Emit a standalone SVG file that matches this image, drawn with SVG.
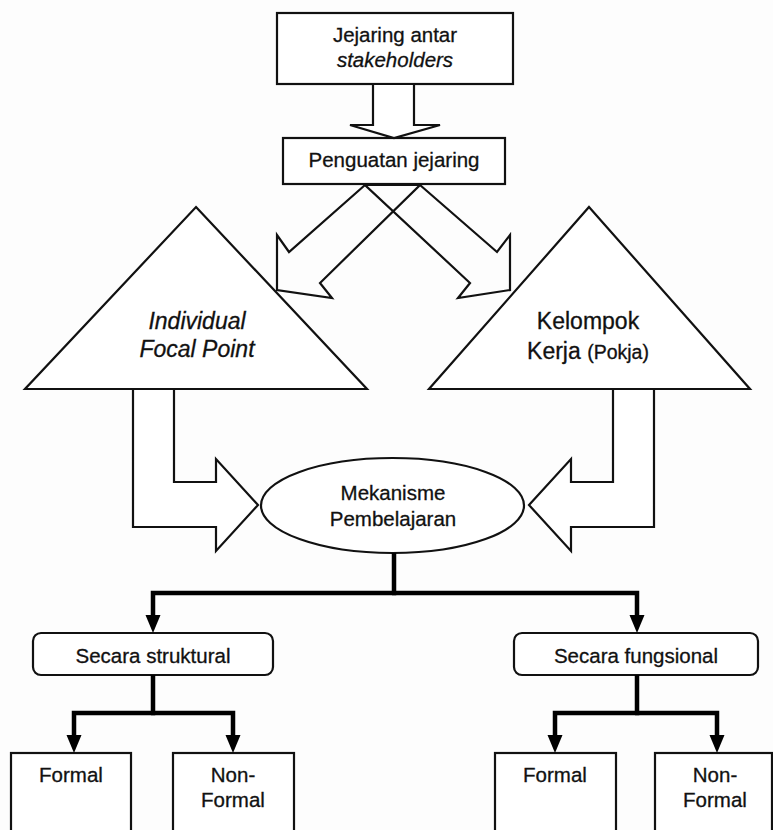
<svg xmlns="http://www.w3.org/2000/svg" width="773" height="830" viewBox="0 0 773 830">
<style>
.box{fill:#fff;stroke:#111;stroke-width:2.2}
.blk{fill:#fff;stroke:#111;stroke-width:2.2;stroke-linejoin:miter}
.open{fill:none;stroke:#111;stroke-width:2.2;stroke-linejoin:miter}
.thick{fill:none;stroke:#000;stroke-width:4.5;stroke-linejoin:miter}
text{font-family:"Liberation Sans",Arial,sans-serif;fill:#111;stroke:#111;stroke-width:0.3;text-anchor:middle}
.t20{font-size:20.5px}
.t23{font-size:23px}
.it{font-style:italic}
</style>
<defs>
<marker id="ah" markerUnits="userSpaceOnUse" markerWidth="18" markerHeight="16" refX="8" refY="7.5" orient="auto" viewBox="0 0 18 15">
<path d="M0,0 L18,7.5 L0,15 z" fill="#000"/>
</marker>
</defs>
<rect width="773" height="830" fill="#fdfdfd"/>

<g id="node-jejaring">
<rect class="box" x="277" y="13" width="236" height="71"/>
<text class="t20" x="395" y="42">Jejaring antar</text>
<text class="t20 it" x="395" y="67">stakeholders</text>
</g>

<g id="node-penguatan">
<rect class="box" x="283" y="138" width="222" height="46"/>
<text class="t20" x="394" y="167">Penguatan jejaring</text>
</g>

<g id="node-individual">
<polygon class="box" points="196,207 367,389 25,389"/>
<text class="t23 it" x="197" y="329">Individual</text>
<text class="t23 it" x="197" y="357">Focal Point</text>
</g>

<g id="node-kelompok">
<polygon class="box" points="589,207 750,389 429,389"/>
<text class="t23" x="588" y="329">Kelompok</text>
<text class="t23" x="588" y="359">Kerja <tspan style="font-size:19.5px">(Pokja)</tspan></text>
</g>

<g id="node-mekanisme">
<ellipse class="box" cx="392.5" cy="505.5" rx="131.5" ry="47.5"/>
<text class="t20" x="393" y="500">Mekanisme</text>
<text class="t20" x="393" y="526">Pembelajaran</text>
</g>

<g id="node-struktural">
<rect class="box" x="33" y="633" width="240" height="42" rx="8"/>
<text class="t20" x="153" y="663">Secara struktural</text>
</g>

<g id="node-fungsional">
<rect class="box" x="514" y="633" width="244" height="42" rx="8"/>
<text class="t20" x="636" y="663">Secara fungsional</text>
</g>

<g id="node-formal-1">
<rect class="box" x="11" y="753" width="120" height="90"/>
<text class="t20" x="71" y="782">Formal</text>
</g>

<g id="node-nonformal-1">
<rect class="box" x="173" y="753" width="121" height="90"/>
<text class="t20" x="233" y="782">Non-</text>
<text class="t20" x="233" y="807">Formal</text>
</g>

<g id="node-formal-2">
<rect class="box" x="495" y="753" width="121" height="90"/>
<text class="t20" x="555" y="782">Formal</text>
</g>

<g id="node-nonformal-2">
<rect class="box" x="655" y="753" width="117" height="90"/>
<text class="t20" x="715" y="782">Non-</text>
<text class="t20" x="715" y="807">Formal</text>
</g>

<g id="connectors">
<polygon class="blk" points="373,84 414,84 414,125 440,125 394,138 350,125 373,125"/>
<polygon class="open" points="365,185 289,252 277,235 277,290 332,298 320,283 420,185"/>
<polygon class="open" points="420,185 497,252 510,235 510,290 458,298 470,283 365,185"/>
<polygon class="blk" points="133,389 174,389 174,482 216,482 216,459 258,505 216,551 216,527 133,527"/>
<polygon class="blk" points="654,389 613,389 613,482 571,482 571,459 529,505 571,551 571,527 654,527"/>
<path class="thick" d="M394,553 V593 H153 V623" marker-end="url(#ah)"/>
<path class="thick" d="M392,593 H637 V623" marker-end="url(#ah)"/>
<path class="thick" d="M153,675 V713 H74 V743" marker-end="url(#ah)"/>
<path class="thick" d="M151,713 H233 V743" marker-end="url(#ah)"/>
<path class="thick" d="M637,675 V713 H555 V743" marker-end="url(#ah)"/>
<path class="thick" d="M635,713 H717 V743" marker-end="url(#ah)"/>
</g>
</svg>
